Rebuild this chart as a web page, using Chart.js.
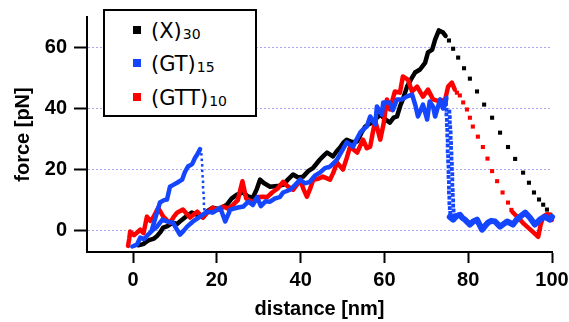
<!DOCTYPE html>
<html>
<head>
<meta charset="utf-8">
<script src="https://cdn.jsdelivr.net/npm/chart.js@4"></script>
<style>
  body { margin: 0; background: #fff; }
  #wrap { position: relative; width: 569px; height: 322px; }
  #legend {
    position: absolute; left: 103px; top: 9px; width: 154px; height: 108px;
    box-sizing: border-box; border: 2px solid #000; background: #fff;
    font-family: "DejaVu Sans"; font-size: 21px; color: #000;
  }
  .sw { position: absolute; left: 28px; width: 8px; height: 8px; }
  .lab { position: absolute; left: 46px; line-height: 24px; white-space: nowrap; }
  .lab sub { font-size: 14px; vertical-align: baseline; position: relative; top: 1px; margin-left: 1px; }
</style>
</head>
<body>
<div id="wrap">
  <canvas id="chart" width="569" height="322"></canvas>
  <div id="legend">
    <div class="sw" style="top:15px;background:#000"></div>
    <div class="lab" style="top:8px">(X)<sub>30</sub></div>
    <div class="sw" style="top:48px;background:#1446ff"></div>
    <div class="lab" style="top:41px">(GT)<sub>15</sub></div>
    <div class="sw" style="top:82px;background:#ff0000"></div>
    <div class="lab" style="top:75px">(GTT)<sub>10</sub></div>
  </div>
</div>
<script>
const xTicks = [0, 20, 40, 60, 80, 100];
const yTicks = [0, 20, 40, 60];

// (X)30 - black
const blackLine = [[1.2,-4.8],[2.4,-4.4],[3.2,-3.6],[4,-3],[5,-2.6],[5.7,-1.8],[6.5,-0.5],[7.2,1],[8.2,1.5],[9.5,2.6],
  [10.5,2.2],[11.7,3.6],[12.8,4.8],[14,5.9],[15.2,5.2],[16.7,4.3],[17.8,6.5],[19,7.5],[20.5,7],[22.4,8.5],
  [23.5,10.5],[24.8,11.8],[26.3,12.5],[27.4,11.2],[28.6,10.8],[29.5,13.5],[30.3,16.7],[31.2,15.6],[32.7,14.4],[34.4,14.6],
  [35.8,15],[37,16.8],[38.2,18.4],[39.4,17.4],[40.6,17.7],[41.8,19.5],[43,20.6],[44.6,23.3],[45.4,24.4],[46.3,25.6],
  [47.7,24.3],[48.6,26],[49.4,27.2],[50.2,28.8],[51,29.8],[52.3,29],[53.5,29.2],[54.5,32],[55.4,34.1],[56.4,35],
  [57.3,35.4],[58.2,37],[59,38],[60.2,36.5],[61.3,35.4],[62.2,37],[63,37.4],[63.8,41],[64.4,43],[65.4,47.2],
  [66.3,49.5],[67.3,51.8],[68.5,52.8],[69.7,55],[70.4,58.4],[71.4,59.3],[72.1,62.6],[73,65.6],[74,64.9],[74.6,63.8]];
const blackDots = [[75.4,62.3],[76.4,59.6],[77.6,56.7],[79,53.2],[80.4,49.8],[82.1,45.6],[83.8,41.3],[85.7,37],[87.6,32.1],
  [89.5,27.4],[91.2,23.5],[93.1,19],[94.5,15.7],[95.7,12.5],[96.9,10.2],[97.9,8.5],[98.8,6.9],[99.6,5.2]];

// (GT)15 - blue
const blueLine = [[-0.2,-5.2],[0.9,-4.6],[1.7,-2.3],[2.6,-2.8],[3.6,-1.3],[4.8,0.3],[5.7,1.3],[7,3.6],[8.1,3],[9.5,2.6],
  [10.4,0.5],[11.2,-1.3],[12.1,0],[12.9,1.3],[14.3,3],[16,4.6],[17.7,6.2],[19,5.9],[20.8,7.5],[22,3],
  [23.2,6.9],[24.8,7.5],[26.3,7.9],[27.5,9.5],[28.6,8.4],[29.6,11],[30.5,8],[31.6,9.6],[32.7,9.5],[33.8,10.5],
  [35.1,11.1],[35.8,12.5],[37.5,13.4],[38.7,15],[39.9,16.7],[41,15.5],[42.2,16],[43.4,18],[44.6,19],[45.8,20.5],
  [47,21],[47.8,22],[48.7,23.3],[49.8,26],[51,28.9],[52.5,27.5],[53.4,30],[54.2,32.1],[54.9,33.1],[55.8,34.1],
  [56.6,37.4],[57.8,34.8],[58.2,40.7],[59.4,38],[59.7,42],[61.3,42],[62,39.5],[63,43],[64.2,43],[65.4,44],
  [66.6,44.6],[67.4,41],[68,37.4],[69.2,41.3],[70.2,36.4],[70.8,42.3],[71.6,40.7],[72.1,37.4],[73.3,43],[74,40],
  [74.5,41.3],[74.8,43.5]];
const blueHump = [[4.5,0.3],[5.5,5],[6.4,9.2],[7.4,10],[8.1,10.2],[8.8,14.4],[9.6,15],[10.5,15.7],[11.7,16.7],[12.4,19.3],
  [13.1,21],[14.1,21.8],[14.8,23.9],[15.3,24.9],[16,26.7]];
const blueHumpDrop = [[16.3,25],[16.4,23.2],[16.5,21.4],[16.5,19.6],[16.6,17.8],[16.7,16],[16.7,14.2],[16.8,12.4],
  [16.9,10.6],[16.9,8.8],[17,7]];
const blueDrop = [[74.7,41.5],[74.8,39.6],[74.8,38.1],[74.9,36.3],[74.9,34.6],[75,33],[75,31.2],[75.1,29.5],[75.1,27.9],
  [75.1,26],[75.2,24.4],[75.2,22.7],[75.3,21],[75.3,19.2],[75.3,17.6],[75.4,15.9],[75.4,14.1],[75.4,12.5],[75.5,10.8],
  [75.5,9],[75.6,7.4],[75.7,5.8],
  [75.5,39],[75.6,37.2],[75.6,35.5],[75.7,33.9],[75.8,32.2],[75.8,30.4],[75.9,28.7],[75.9,27.1],[76,25.3],[76,23.6],
  [76.1,21.9],[76.1,20.2],[76.2,18.5],[76.2,16.8],[76.2,15],[76.3,13.3],[76.3,11.7],[76.4,9.9],[76.4,8.2],[76.5,6.6],[76.6,5]];
const blueTail = [[75.6,4.5],[76.4,3.6],[77.2,4.8],[78,5.2],[78.6,4.2],[79.2,3.6],[80.4,2],[81.2,3],[82.1,3.6],[83.3,0.3],
  [84,1.5],[84.7,2.6],[85.5,3.2],[86.4,3],[87.6,1.3],[88.5,2.2],[89.3,3],[90.7,2],[91.5,3.5],[92.4,4.6],
  [93.6,5.9],[94.7,4.3],[95.9,2],[96.5,2.8],[97.1,3.6],[98.3,4.6],[99,4],[99.5,3.6],[100,4.5]];

// (GTT)10 - red
const redLine = [[-1.2,-5],[-0.9,-2.5],[-0.7,-0.3],[0.2,-1.5],[0.9,-0.7],[1.7,0.3],[2.5,-0.8],[3.3,4.6],[4.1,3.2],[4.8,4.3],
  [6,7.5],[7.2,4.6],[8,3.5],[8.8,2.6],[9.7,4.5],[10.5,5.9],[11.9,6.9],[12.8,5.5],[13.6,4.3],[15.3,6.2],
  [16.7,4.3],[17.8,6],[19,7.5],[20.2,6.8],[21.5,7.9],[22.7,7.2],[23.9,8.5],[25,10],[26.1,16.2],[27,10.5],
  [28.6,9.2],[29.8,11],[31,11.1],[32,11],[33.2,12.5],[34.5,13.8],[35.8,16],[37,14.4],[38.2,13.4],[39,14.8],
  [39.9,16.7],[40.7,13.5],[41.5,11.1],[42.2,13.5],[43,16.7],[44.2,17],[45.3,17.7],[47,16.7],[47.8,19],[48.7,22.3],
  [50.1,20],[51,23.8],[51.8,27.5],[53.5,25.6],[54.9,29.8],[55.8,27],[56.6,27.5],[57.2,32],[57.8,36],[58.4,33],
  [59,29.8],[59.8,35],[60.6,43],[61.3,39.7],[62.5,45.6],[63.7,45.2],[64.4,50.5],[65.6,49.5],[66.6,45.6],[67.8,47.2],
  [69.2,43.9],[70.4,46.2],[71.6,43],[73.3,42.3],[74.5,43],[75.2,47.2],[76.1,48.5],[76.8,46.2]];
const redDots = [[77.3,45.2],[78,44.3],[78.8,42],[79.7,39.7],[80.4,37],[81.1,34.1],[82.3,30.8],[83.5,27.4],[84.6,23.6],
  [85.7,19.5],[86.9,16.2],[88.2,12.5],[89.5,9.2],[90.3,6.8]];
const redTail = [[90.5,6.2],[91.5,4.8],[92.4,3.6],[93.3,2.2],[94.3,1],[95.5,-0.5],[96.7,-2],[97.3,2],[97.9,4.6],[98.8,5.4],
  [99.5,5.2],[100,3.5]];

const BLACK = '#000000', BLUE = '#1446ff', RED = '#ff0000';

const toXY = a => a.map(p => ({ x: p[0], y: p[1] }));
function line(pts, color, w) {
  return { data: toXY(pts), showLine: true, borderColor: color, backgroundColor: color, borderWidth: w,
    pointRadius: 0, tension: 0, borderJoinStyle: 'round', borderCapStyle: 'round', clip: 8 };
}
function dots(pts, color, r) {
  return { data: toXY(pts), showLine: false, pointStyle: 'rect', pointRadius: r, pointHoverRadius: r,
    backgroundColor: color, borderWidth: 0, clip: 8 };
}

const tickFont = { family: 'Liberation Sans', size: 20, weight: 'bold' };

new Chart(document.getElementById('chart'), {
  type: 'scatter',
  data: {
    datasets: [
      line(blueLine, BLUE, 4.5),
      line(blueHump, BLUE, 4.5),
      dots(blueHumpDrop, BLUE, 1.8),
      dots(blueDrop, BLUE, 2.7),
      line(blueTail, BLUE, 6),
      line(redLine, RED, 4.5),
      dots(redDots, RED, 2.9),
      line(redTail, RED, 4.5),
      line(blackLine, BLACK, 4.5),
      dots(blackDots, BLACK, 2.9)
    ]
  },
  options: {
    responsive: false,
    animation: false,
    devicePixelRatio: 1,
    layout: { padding: { top: 17, right: 17, left: 0, bottom: 0 } },
    plugins: { legend: { display: false }, tooltip: { enabled: false } },
    scales: {
      x: {
        type: 'linear', min: -11, max: 100,
        afterBuildTicks: s => { s.ticks = xTicks.map(v => ({ value: v })); },
        afterFit: s => { s.height = 70; s.paddingLeft = 0; s.paddingRight = 0; },
        grid: { drawOnChartArea: false, tickLength: 11, tickWidth: 2, tickColor: BLACK },
        border: { color: BLACK, width: 2 },
        ticks: { color: BLACK, font: tickFont, padding: 5, maxRotation: 0 },
        title: { display: true, text: 'distance [nm]', color: BLACK, font: tickFont, padding: { top: 0, bottom: 1 } }
      },
      y: {
        type: 'linear', min: -7, max: 70,
        afterBuildTicks: s => { s.ticks = yTicks.map(v => ({ value: v })); },
        afterFit: s => { s.width = 87; s.paddingTop = 0; s.paddingBottom = 0; },
        grid: { color: '#a8a8f5', lineWidth: 1, tickLength: 13, tickWidth: 2, tickColor: BLACK, tickBorderDash: [] },
        border: { color: BLACK, width: 2, dash: [2, 2] },
        ticks: { color: BLACK, font: tickFont, padding: 7 },
        title: { display: true, text: 'force [pN]', color: BLACK, font: tickFont, padding: { top: 11, bottom: 0 } }
      }
    }
  }
});
</script>
</body>
</html>
